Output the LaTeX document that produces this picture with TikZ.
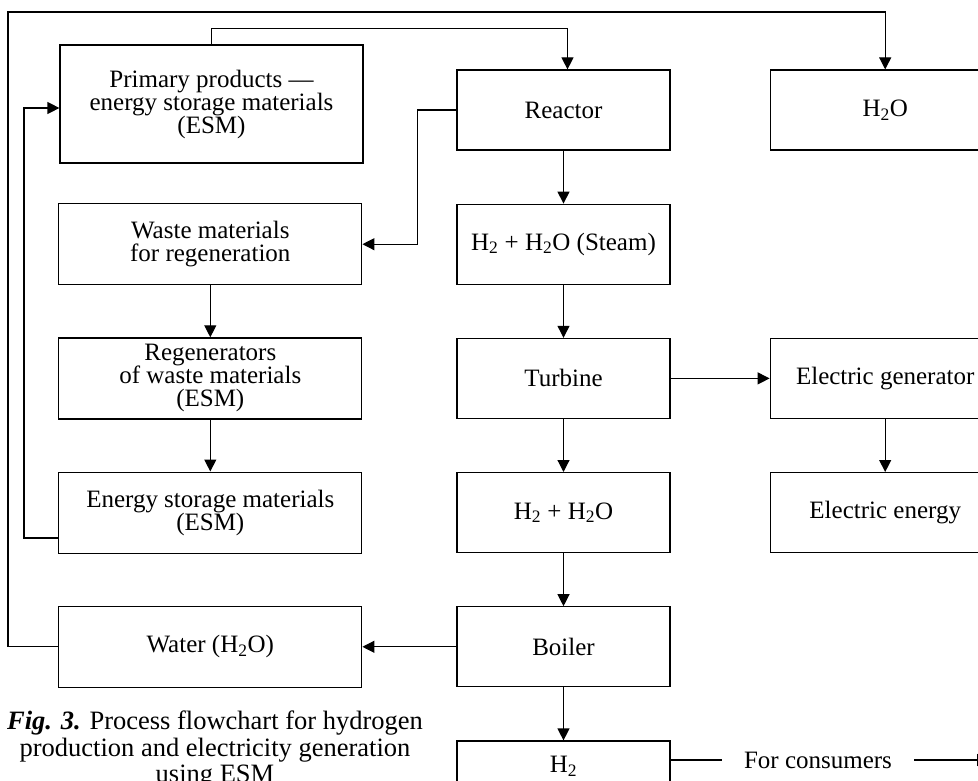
\documentclass[tikz,border=0pt]{standalone}
\usepackage{fontspec}
\setmainfont{Liberation Serif}
\usetikzlibrary{positioning,arrows.meta}

\begin{document}
\begin{tikzpicture}[x=1pt,y=-1pt,
	box/.style={draw, line width=1.2pt, inner sep=0pt, align=center, font=\fontsize{25}{23}\selectfont},
	lbox/.style={box, minimum width=303pt, minimum height=81pt},
	mbox/.style={box, minimum width=213pt, minimum height=80pt},
	rbox/.style={box, minimum width=230pt, minimum height=80pt},
	flow/.style={line width=1.2pt, -{Triangle[length=12pt,width=12pt]}},
	plain/.style={line width=1.2pt},
	node distance=53pt]
	\useasboundingbox (0,0) rectangle (978,781);
	\clip (0,0) rectangle (978,781);

	\node[mbox] (reac) at (563.5,110) {Reactor};
	\node[mbox, below=of reac] (steam) {H\textsubscript{2} + H\textsubscript{2}O (Steam)};
	\node[mbox, below=of steam] (turb) {Turbine};
	\node[mbox, below=of turb] (mix) {H\textsubscript{2} + H\textsubscript{2}O};
	\node[mbox, below=of mix] (boil) {Boiler};
	\node[mbox, below=of boil, minimum height=50pt] (hyd) {H\textsubscript{2}};

	\node[lbox, minimum height=118pt] (prim) at (211.5,104) {Primary products —\\energy storage materials\\(ESM)};
	\node[lbox, left=94pt of steam] (waste) {Waste materials\\for regeneration};
	\node[lbox, left=94pt of turb] (regen) {Regenerators\\of waste materials\\(ESM)};
	\node[lbox, left=94pt of mix] (esm) {Energy storage materials\\(ESM)};
	\node[lbox, left=94pt of boil] (water) {Water (H\textsubscript{2}O)};

	\node[rbox, right=99pt of reac] (h2o) {H\textsubscript{2}O};
	\node[rbox, right=99pt of turb] (egen) {Electric generator};
	\node[rbox, right=99pt of mix] (eout) {Electric energy};

	\node[inner ysep=0pt, inner xsep=22pt, font=\fontsize{25}{23}\selectfont] (cons) at (818,760) {For consumers};
	\coordinate (sink) at (989,760);

	\node[anchor=north, inner sep=0pt, align=center, font=\fontsize{26.5}{26.5}\selectfont] (cap) at (215,711)
		{\textbf{\textit{Fig. 3.}} Process flowchart for hydrogen\\production and electricity generation\\using ESM};

	\draw[flow] (reac) -- (steam);
	\draw[flow] (steam) -- (turb);
	\draw[flow] (turb) -- (mix);
	\draw[flow] (mix) -- (boil);
	\draw[flow] (boil) -- (hyd);
	\draw[flow] (turb) -- (egen);
	\draw[flow] (egen) -- (eout);
	\draw[flow] (boil) -- (water);
	\draw[flow] (waste) -- (regen);
	\draw[flow] (regen) -- (esm);
	\draw[flow] (prim.north) -- ++(0,-16) -| ([xshift=4pt]reac.north);
	\draw[flow] (reac.west) -- ++(-39,0) |- (waste.east);

	\coordinate (loopin) at (24,538);
	\draw[flow] (esm.west |- loopin) -- (loopin) |- ([yshift=-4pt]prim.west);
	\coordinate (loopout) at (8,12);
	\draw[flow] (water.west) -| (loopout) -| (h2o.north);

	\draw[plain] (hyd.east |- cons) -- (cons.west);
	\draw[flow] (cons.east) -- (sink);
\end{tikzpicture}
\end{document}
